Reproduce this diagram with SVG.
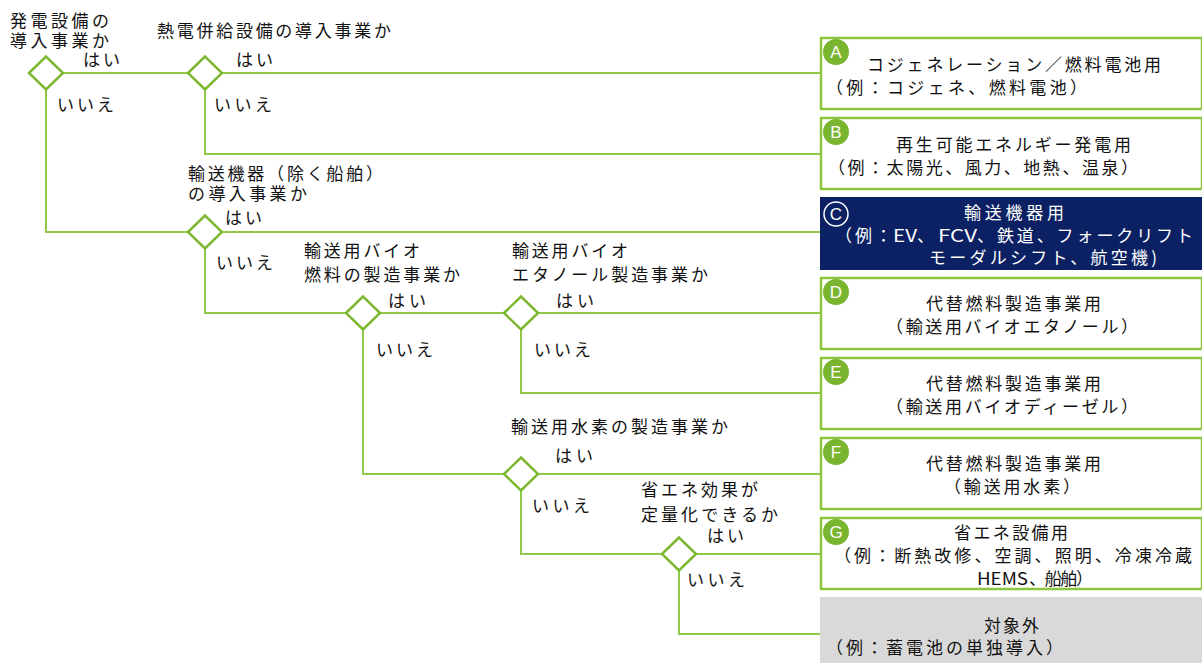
<svg xmlns="http://www.w3.org/2000/svg" width="1202" height="663" viewBox="0 0 1202 663">
<style>
.ln{stroke:#92c84a;stroke-width:2;fill:none}
.dm{fill:#fff;stroke:#7cb82f;stroke-width:2.5}
.bx{fill:#fff;stroke:#8cc63f;stroke-width:2.5}
.t{font-family:"Noto Sans CJK JP","Noto Sans",sans-serif;font-size:17px;fill:#111}
.w{fill:#fff}
.bd{fill:#7ab52f}
.bl{font-family:"Liberation Sans",Arial,sans-serif;font-size:17px;fill:#fff;text-anchor:middle}
</style>
<rect width="1202" height="663" fill="#fff"/>
<g id="connectors">
<path class="ln" d="M63,73 H188"/>
<path class="ln" d="M222,73 H821"/>
<path class="ln" d="M46,90 V232 H188"/>
<path class="ln" d="M205,90 V154 H821"/>
<path class="ln" d="M222,232 H821"/>
<path class="ln" d="M205,249 V313 H346"/>
<path class="ln" d="M380,313 H504"/>
<path class="ln" d="M538,313 H821"/>
<path class="ln" d="M521,330 V393 H821"/>
<path class="ln" d="M363,330 V474 H504"/>
<path class="ln" d="M538,474 H821"/>
<path class="ln" d="M521,491 V554 H662"/>
<path class="ln" d="M696,554 H821"/>
<path class="ln" d="M679,571 V634 H821"/>
</g>
<g id="q1">
<polygon class="dm" points="29,73 46,56.5 63,73 46,89.5"/>
<text class="t" x="10" y="27" textLength="99" lengthAdjust="spacing">発電設備の</text>
<text class="t" x="10" y="47" textLength="99" lengthAdjust="spacing">導入事業か</text>
<text class="t" x="83" y="66" textLength="37" lengthAdjust="spacing">はい</text>
<text class="t" x="57" y="111" textLength="57" lengthAdjust="spacing">いいえ</text>
</g>
<g id="q2">
<polygon class="dm" points="188,73 205,56.5 222,73 205,89.5"/>
<text class="t" x="157" y="37" textLength="234" lengthAdjust="spacing">熱電併給設備の導入事業か</text>
<text class="t" x="236" y="66" textLength="37" lengthAdjust="spacing">はい</text>
<text class="t" x="214" y="111" textLength="58" lengthAdjust="spacing">いいえ</text>
</g>
<g id="q3">
<polygon class="dm" points="188,232 205,215.5 222,232 205,248.5"/>
<text class="t" x="188" y="180" textLength="195" lengthAdjust="spacing">輸送機器（除く船舶）</text>
<text class="t" x="188" y="200" textLength="119" lengthAdjust="spacing">の導入事業か</text>
<text class="t" x="225" y="224" textLength="37" lengthAdjust="spacing">はい</text>
<text class="t" x="216" y="269" textLength="57" lengthAdjust="spacing">いいえ</text>
</g>
<g id="q4">
<polygon class="dm" points="346,313 363,296.5 380,313 363,329.5"/>
<text class="t" x="304" y="257" textLength="116" lengthAdjust="spacing">輸送用バイオ</text>
<text class="t" x="304" y="281" textLength="156" lengthAdjust="spacing">燃料の製造事業か</text>
<text class="t" x="388" y="307" textLength="38" lengthAdjust="spacing">はい</text>
<text class="t" x="376" y="356" textLength="57" lengthAdjust="spacing">いいえ</text>
</g>
<g id="q5">
<polygon class="dm" points="504,313 521,296.5 538,313 521,329.5"/>
<text class="t" x="512" y="257" textLength="116" lengthAdjust="spacing">輸送用バイオ</text>
<text class="t" x="512" y="281" textLength="196" lengthAdjust="spacing">エタノール製造事業か</text>
<text class="t" x="556" y="307" textLength="38" lengthAdjust="spacing">はい</text>
<text class="t" x="534" y="356" textLength="57" lengthAdjust="spacing">いいえ</text>
</g>
<g id="q6">
<polygon class="dm" points="504,474 521,457.5 538,474 521,490.5"/>
<text class="t" x="511" y="433" textLength="217" lengthAdjust="spacing">輸送用水素の製造事業か</text>
<text class="t" x="555" y="462" textLength="38" lengthAdjust="spacing">はい</text>
<text class="t" x="532" y="512" textLength="58" lengthAdjust="spacing">いいえ</text>
</g>
<g id="q7">
<polygon class="dm" points="662,554 679,537.5 696,554 679,570.5"/>
<text class="t" x="641" y="496" textLength="117" lengthAdjust="spacing">省エネ効果が</text>
<text class="t" x="641" y="521" textLength="137" lengthAdjust="spacing">定量化できるか</text>
<text class="t" x="707" y="542" textLength="37" lengthAdjust="spacing">はい</text>
<text class="t" x="687" y="586" textLength="58" lengthAdjust="spacing">いいえ</text>
</g>
<g id="boxA">
<rect class="bx" x="821" y="38" width="381" height="71"/>
<circle class="bd" cx="836" cy="52" r="13"/>
<text class="bl" x="836" y="58">A</text>
<text class="t" x="867" y="71" textLength="294" lengthAdjust="spacing">コジェネレーション／燃料電池用</text>
<text class="t" x="826" y="94" textLength="261" lengthAdjust="spacing">（例：コジェネ、燃料電池）</text>
</g>
<g id="boxB">
<rect class="bx" x="821" y="118" width="381" height="71"/>
<circle class="bd" cx="836" cy="132" r="13"/>
<text class="bl" x="836" y="138">B</text>
<text class="t" x="896" y="151" textLength="235" lengthAdjust="spacing">再生可能エネルギー発電用</text>
<text class="t" x="828" y="174" textLength="310" lengthAdjust="spacing">（例：太陽光、風力、地熱、温泉）</text>
</g>
<g id="boxC">
<rect x="820" y="197" width="382" height="73" fill="#0b2163"/>
<circle cx="836" cy="214" r="12" fill="none" stroke="#fff" stroke-width="1.5"/>
<text class="bl" x="836" y="220">C</text>
<text class="t w" x="964" y="219" textLength="100" lengthAdjust="spacing">輸送機器用</text>
<text class="t w" x="835" y="242" textLength="57" lengthAdjust="spacing">（例：</text>
<text class="t w" x="893" y="242" textLength="24" lengthAdjust="spacingAndGlyphs">EV</text>
<text class="t w" x="917" y="242">、</text>
<text class="t w" x="938" y="242" textLength="39" lengthAdjust="spacingAndGlyphs">FCV</text>
<text class="t w" x="977" y="242" textLength="216" lengthAdjust="spacing">、鉄道、フォークリフト</text>
<text class="t w" x="929" y="264" textLength="228" lengthAdjust="spacing">モーダルシフト、航空機)</text>
</g>
<g id="boxD">
<rect class="bx" x="821" y="278" width="381" height="71"/>
<circle class="bd" cx="836" cy="292" r="13"/>
<text class="bl" x="836" y="298">D</text>
<text class="t" x="926" y="310" textLength="175" lengthAdjust="spacing">代替燃料製造事業用</text>
<text class="t" x="886" y="333" textLength="252" lengthAdjust="spacing">（輸送用バイオエタノール）</text>
</g>
<g id="boxE">
<rect class="bx" x="821" y="358" width="381" height="71"/>
<circle class="bd" cx="836" cy="372" r="13"/>
<text class="bl" x="836" y="378">E</text>
<text class="t" x="926" y="390" textLength="175" lengthAdjust="spacing">代替燃料製造事業用</text>
<text class="t" x="886" y="413" textLength="252" lengthAdjust="spacing">（輸送用バイオディーゼル）</text>
</g>
<g id="boxF">
<rect class="bx" x="821" y="438" width="381" height="71"/>
<circle class="bd" cx="836" cy="452" r="13"/>
<text class="bl" x="836" y="458">F</text>
<text class="t" x="926" y="470" textLength="175" lengthAdjust="spacing">代替燃料製造事業用</text>
<text class="t" x="944" y="493" textLength="136" lengthAdjust="spacing">（輸送用水素）</text>
</g>
<g id="boxG">
<rect class="bx" x="821" y="518" width="381" height="71"/>
<circle class="bd" cx="836" cy="532" r="13"/>
<text class="bl" x="836" y="538">G</text>
<text class="t" x="954" y="539" textLength="114" lengthAdjust="spacing">省エネ設備用</text>
<text class="t" x="834" y="562" textLength="358" lengthAdjust="spacing">（例：断熱改修、空調、照明、冷凍冷蔵</text>
<text class="t" x="977" y="585" textLength="51" lengthAdjust="spacingAndGlyphs">HEMS</text>
<text class="t" x="1029" y="585" textLength="64" lengthAdjust="spacing">、船舶）</text>
</g>
<g id="boxOut">
<rect x="820" y="597" width="382" height="66" fill="#d9d9d9"/>
<text class="t" x="984" y="632" textLength="55" lengthAdjust="spacing">対象外</text>
<text class="t" x="826" y="654" textLength="237" lengthAdjust="spacing">（例：蓄電池の単独導入）</text>
</g>
</svg>
